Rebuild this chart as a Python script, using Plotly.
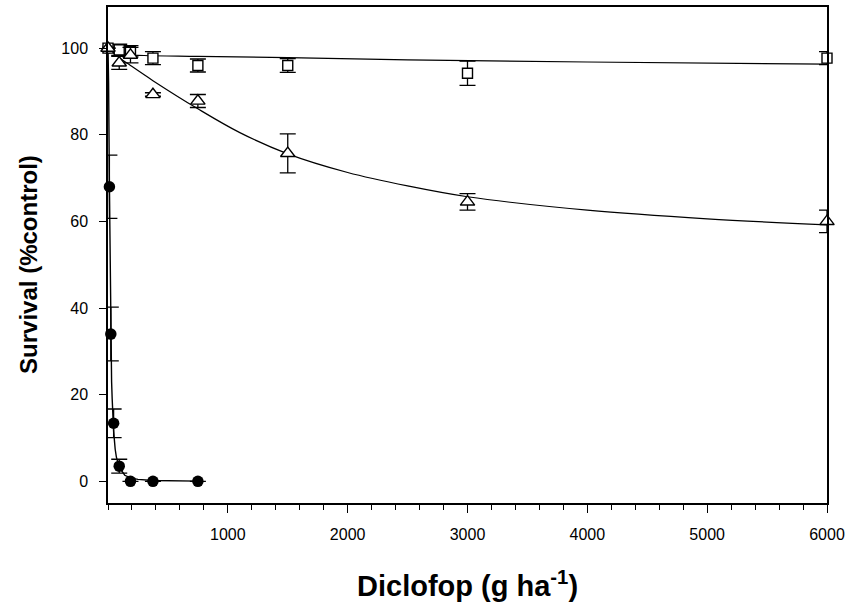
import plotly.graph_objects as go

# ---- data ----
# Susceptible (filled circles)
dose_S = [0, 11.7, 23.4, 46.9, 93.75, 187.5, 375, 750]
surv_S = [100, 68.0, 34.0, 13.4, 3.5, 0, 0, 0]
err_S = [0, 7.3, 6.2, 3.3, 1.6, 0, 0, 0]

# Open squares
dose_Q = [0, 93.75, 187.5, 375, 750, 1500, 3000, 6000]
surv_Q = [100, 99.6, 99.3, 97.7, 96.0, 96.0, 94.2, 97.7]
err_Q = [0, 1.3, 1.3, 1.5, 1.5, 1.6, 2.8, 1.5]

# Open triangles
dose_T = [0, 93.75, 187.5, 375, 750, 1500, 3000, 6000]
surv_T = [100, 96.6, 98.4, 89.3, 87.8, 75.7, 64.5, 60.0]
err_T = [0, 1.5, 1.8, 0.4, 1.5, 4.5, 1.9, 2.6]

# fitted curves
curve_S_x = [0, 5, 11.7, 17, 23.4, 30, 35, 46.9, 60, 70, 93.75, 120, 140, 187.5, 250, 375, 500, 750]
curve_S_y = [100, 92, 68, 50, 34.6, 23, 19, 11.6, 7.4, 5.6, 3.2, 2.0, 1.4, 0.8, 0.45, 0.2, 0.1, 0.05]

curve_Q_x = [0, 50, 100, 300, 750, 1500, 2500, 4000, 6000]
curve_Q_y = [100, 99.0, 98.6, 98.3, 98.1, 97.8, 97.3, 96.8, 96.3]

curve_T_x = [0, 94, 187.5, 375, 750, 1100, 1500, 2000, 2500, 3000, 4000, 5000, 6000]
curve_T_y = [100, 97.8, 96.0, 92.5, 86.0, 80.5, 75.6, 71.3, 68.2, 65.7, 62.6, 60.6, 59.2]

x_ticks = [1000, 2000, 3000, 4000, 5000, 6000]
y_ticks = [0, 20, 40, 60, 80, 100]

x_title = "<b>Diclofop (g ha<sup>-1</sup>)</b>"
y_title = "<b>Survival (%control)</b>"

FONT = "Arial, Liberation Sans, sans-serif"
BLACK = "#000000"

L, R, T, B = 108, 24, 7, 104
W, H = 851, 607
PW, PH = W - L - R, H - T - B

fig = go.Figure()

# curves
fig.add_trace(go.Scatter(x=curve_S_x, y=curve_S_y, mode="lines",
                         line=dict(color=BLACK, width=1.4), showlegend=False, hoverinfo="skip"))
fig.add_trace(go.Scatter(x=curve_Q_x, y=curve_Q_y, mode="lines", line_shape="spline",
                         line=dict(color=BLACK, width=1.2), showlegend=False, hoverinfo="skip"))
fig.add_trace(go.Scatter(x=curve_T_x, y=curve_T_y, mode="lines", line_shape="spline",
                         line=dict(color=BLACK, width=1.2), showlegend=False, hoverinfo="skip"))

# markers with error bars
fig.add_trace(go.Scatter(
    x=dose_S, y=surv_S, mode="markers", cliponaxis=False, showlegend=False,
    marker=dict(symbol="circle", size=11.5, color=BLACK),
    error_y=dict(type="data", array=err_S, color=BLACK, thickness=1.3, width=8)))
fig.add_trace(go.Scatter(
    x=dose_Q, y=surv_Q, mode="markers", cliponaxis=False, showlegend=False,
    marker=dict(symbol="square", size=10, color="white", line=dict(color=BLACK, width=1.4)),
    error_y=dict(type="data", array=err_Q, color=BLACK, thickness=1.3, width=8)))
fig.add_trace(go.Scatter(
    x=dose_T, y=surv_T, mode="markers", cliponaxis=False, showlegend=False,
    marker=dict(symbol="triangle-up", size=12.5, color="white", line=dict(color=BLACK, width=1.4)),
    error_y=dict(type="data", array=err_T, color=BLACK, thickness=1.3, width=8)))

# axis titles as annotations (pixel-placed)
fig.add_annotation(text=y_title, xref="paper", yref="paper",
                   x=(29 - L) / PW, y=0.48, xanchor="center", yanchor="middle",
                   textangle=-90, showarrow=False,
                   font=dict(size=24, family=FONT, color=BLACK))
fig.add_annotation(text=x_title, xref="paper", yref="paper",
                   x=0.5, y=-(584 - (T + PH)) / PH, xanchor="center", yanchor="middle",
                   showarrow=False,
                   font=dict(size=29, family=FONT, color=BLACK))

fig.update_layout(
    width=W, height=H,
    margin=dict(l=L, r=R, t=T, b=B, autoexpand=False),
    paper_bgcolor="white", plot_bgcolor="white",
    font=dict(family=FONT, color=BLACK, size=16),
    hovermode=False,
    xaxis=dict(
        range=[0, 6000], tickmode="array", tickvals=x_ticks,
        ticktext=[str(v) for v in x_ticks], automargin=False,
        ticks="outside", ticklen=8, tickwidth=1.2, tickcolor=BLACK,
        ticklabelstandoff=8,
        minor=dict(tickmode="linear", tick0=0, dtick=200, ticks="outside",
                   ticklen=5, tickwidth=1.0, tickcolor=BLACK, showgrid=False),
        showline=True, linecolor=BLACK, linewidth=1.5, mirror=True,
        showgrid=False, zeroline=False,
        tickfont=dict(size=16, family=FONT),
    ),
    yaxis=dict(
        range=[-5, 109.5], tickmode="array", tickvals=y_ticks, automargin=False,
        ticks="outside", ticklen=7, tickwidth=1.2, tickcolor=BLACK,
        ticklabelstandoff=8,
        showline=True, linecolor=BLACK, linewidth=1.5, mirror=True,
        showgrid=False, zeroline=False,
        tickfont=dict(size=16, family=FONT),
    ),
)

fig.write_html(
    "out.html",
    config={"displayModeBar": False},
    post_script="document.body.style.margin='0';document.body.style.overflow='hidden';",
)
